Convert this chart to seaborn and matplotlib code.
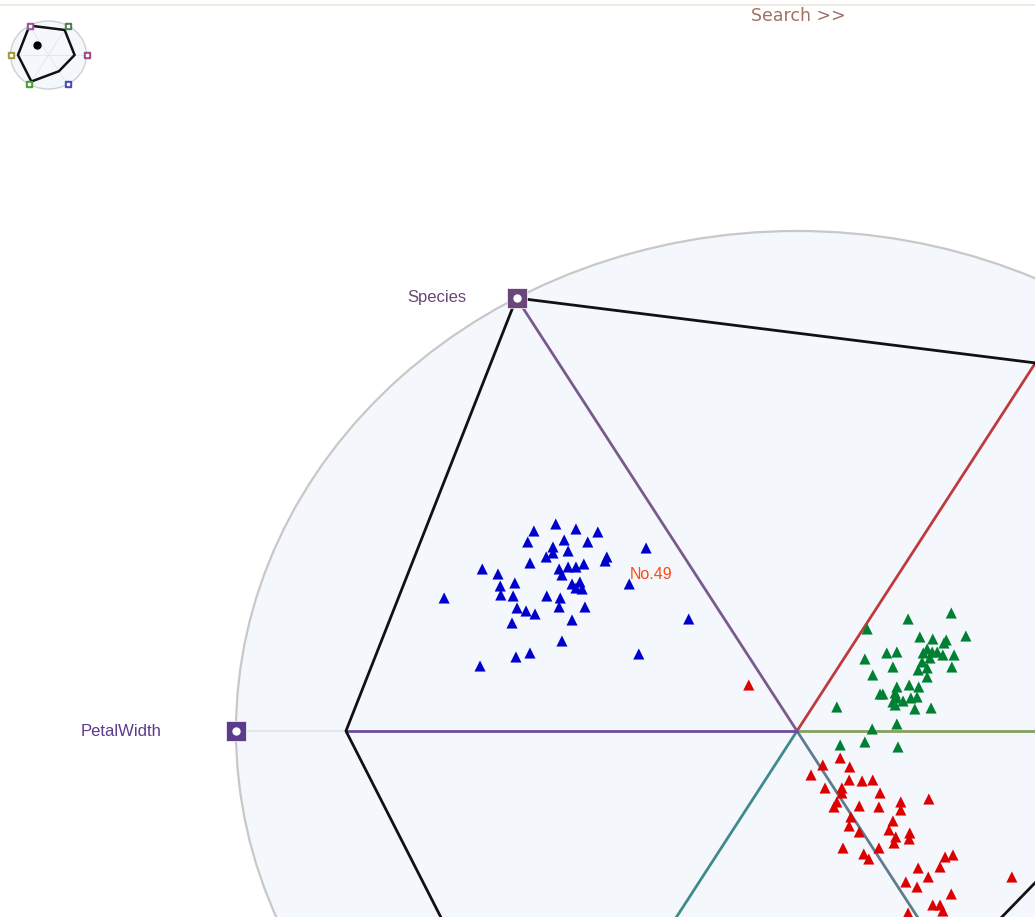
import numpy as np
import pandas as pd
import matplotlib
matplotlib.use("Agg")
import matplotlib.pyplot as plt
import seaborn as sns
from matplotlib.patches import Circle
from matplotlib.lines import Line2D

# ---------------- data (RadViz projections, unit circle) ----------------
setosa_x = [-0.469, -0.430, -0.394, -0.355, -0.480, -0.415, -0.435, -0.373, -0.408, -0.435,
            -0.447, -0.339, -0.342, -0.269, -0.476, -0.561, -0.533, -0.424, -0.408, -0.394,
            -0.380, -0.419, -0.503, -0.529, -0.401, -0.387, -0.383, -0.394, -0.299, -0.528,
            -0.506, -0.446, -0.422, -0.629, -0.378, -0.424, -0.499, -0.483, -0.467, -0.193,
            -0.508, -0.401, -0.419, -0.476, -0.501, -0.282, -0.565]
setosa_y = [0.400, 0.414, 0.404, 0.398, 0.378, 0.382, 0.368, 0.378, 0.360, 0.356,
            0.348, 0.348, 0.340, 0.366, 0.336, 0.324, 0.314, 0.324, 0.328, 0.328,
            0.334, 0.312, 0.296, 0.290, 0.294, 0.298, 0.284, 0.286, 0.294, 0.272,
            0.270, 0.270, 0.266, 0.266, 0.248, 0.248, 0.246, 0.240, 0.234, 0.224,
            0.216, 0.222, 0.180, 0.156, 0.148, 0.154, 0.130]

versicolor_x = [0.275, 0.198, 0.301, 0.219, 0.242, 0.266, 0.125, 0.262, 0.232, 0.225,
                0.241, 0.250, 0.260, 0.280, 0.160, 0.178, 0.121, 0.237, 0.223, 0.171,
                0.232, 0.276, 0.216, 0.135, 0.232, 0.200, 0.178, 0.217, 0.148, 0.153,
                0.175, 0.178, 0.171, 0.214, 0.203, 0.189, 0.175, 0.210, 0.239, 0.071,
                0.134, 0.178, 0.077, 0.121, 0.180]
versicolor_y = [0.236, 0.224, 0.190, 0.188, 0.184, 0.182, 0.204, 0.176, 0.164, 0.156,
                0.158, 0.158, 0.152, 0.152, 0.156, 0.158, 0.144, 0.146, 0.138, 0.128,
                0.126, 0.128, 0.122, 0.112, 0.108, 0.092, 0.088, 0.088, 0.074, 0.074,
                0.076, 0.066, 0.058, 0.068, 0.066, 0.060, 0.052, 0.044, 0.046, 0.048,
                0.004, 0.014, -0.028, -0.022, -0.032]

virginica_x = [-0.086, 0.077, 0.046, 0.094, 0.025, 0.093, 0.116, 0.135, 0.050, 0.080,
               0.080, 0.148, 0.235, 0.185, 0.071, 0.066, 0.111, 0.146, 0.185, 0.096,
               0.171, 0.093, 0.164, 0.111, 0.201, 0.176, 0.200, 0.173, 0.082, 0.146,
               0.119, 0.128, 0.278, 0.264, 0.216, 0.255, 0.234, 0.383, 0.194, 0.214,
               0.275, 0.242, 0.255, 0.260, 0.198]
virginica_y = [0.092, -0.054, -0.068, -0.072, -0.088, -0.098, -0.100, -0.098, -0.114, -0.114,
               -0.124, -0.124, -0.136, -0.142, -0.142, -0.152, -0.150, -0.152, -0.158, -0.172,
               -0.180, -0.190, -0.198, -0.202, -0.204, -0.212, -0.216, -0.224, -0.234, -0.234,
               -0.246, -0.256, -0.248, -0.252, -0.274, -0.272, -0.292, -0.292, -0.302, -0.312,
               -0.326, -0.348, -0.348, -0.360, -0.364]

species_names = ["setosa", "versicolor", "virginica"]
species_colors = ["#0000cc", "#008033", "#dd0000"]

# anchors (dimensions) around the circle
anchor_angles = [120, 60, 0, 300, 240, 180]
anchor_labels = ["Species", "", "", "", "", "PetalWidth"]
anchor_colors = ["#7a5a8c", "#c0393b", "#86a05e", "#5f7c8e", "#3f8a8c", "#6a4c9c"]
anchor_square_colors = ["#6b4679", "#8a3a3a", "#6a8a4a", "#4a5a8a", "#3a7a7a", "#5c3a8c"]
# highlighted record (No.49) polygon: normalised value on each dimension
record_values = [1.0, 0.85, 0.687, 0.55, 0.9, 0.804]
highlight_label = "No.49"
highlight_index = 28

mini_colors = ["#a0509a", "#4f7f4f", "#a04a80", "#4a4ac0", "#4aa030", "#a09a40"]

# ---------------- figure ----------------
sns.set_style("white")
plt.rcParams["font.family"] = ["Liberation Sans", "DejaVu Sans"]

W, H = 1035, 917
fig = plt.figure(figsize=(W / 100, H / 100), dpi=100)
ax = fig.add_axes([0, 0, 1, 1])
ax.set_xlim(-797 / 561, 238 / 561)
ax.set_ylim(-186 / 500, 731 / 500)
ax.axis("off")

ax.add_patch(Circle((0, 0), 1.0, facecolor="#f4f8fd", edgecolor="#c8c8c8", lw=1.6, zorder=0))

ang = np.deg2rad(anchor_angles)
ax_x, ax_y = np.cos(ang), np.sin(ang)
vals = np.array(record_values)

for i in range(len(ang)):
    vx, vy = ax_x[i] * vals[i], ax_y[i] * vals[i]
    ax.plot([vx, ax_x[i]], [vy, ax_y[i]], color="#e4e6ea", lw=1.5, zorder=1)
    ax.plot([0, vx], [0, vy], color=anchor_colors[i], lw=2, zorder=2)

# record polygon
px = np.append(ax_x * vals, ax_x[0] * vals[0])
py = np.append(ax_y * vals, ax_y[0] * vals[0])
ax.plot(px, py, color="#111111", lw=2, zorder=3)

# points
df = pd.DataFrame({
    "x": setosa_x + versicolor_x + virginica_x,
    "y": setosa_y + versicolor_y + virginica_y,
    "species": [species_names[0]] * len(setosa_x) + [species_names[1]] * len(versicolor_x)
               + [species_names[2]] * len(virginica_x),
})
sns.scatterplot(data=df, x="x", y="y", hue="species", palette=dict(zip(species_names, species_colors)),
                marker="^", s=64, linewidth=0, legend=False, ax=ax, zorder=4)

# anchors
label_offsets = {"Species": -36, "PetalWidth": -54}
for i in range(len(ang)):
    ax.plot(ax_x[i], ax_y[i], marker="s", ms=14, color=anchor_square_colors[i], mec="white", mew=0.5, zorder=5)
    ax.plot(ax_x[i], ax_y[i], marker="o", ms=5, color="white", zorder=6)
    if anchor_labels[i]:
        ax.annotate(anchor_labels[i], (ax_x[i], ax_y[i]), xytext=(label_offsets[anchor_labels[i]], 0),
                    textcoords="offset points", ha="right", va="center", fontsize=12,
                    color=anchor_square_colors[i])

ax.annotate(highlight_label, (setosa_x[highlight_index], setosa_y[highlight_index]), xytext=(0, 6.5),
            textcoords="offset points", ha="left", va="center", fontsize=11.5, color="#ff4a10", zorder=7)

# top strip
fig.add_artist(Line2D([0, 1], [1 - 5 / H, 1 - 5 / H], color="#efe6d8", lw=1.2, transform=fig.transFigure))
fig.text(798 / W, 1 - 16 / H, "Search >>", fontsize=12.5, color="#a07262", ha="center", va="center",
         fontfamily="DejaVu Sans")

# mini overview
mx = fig.add_axes([1 / W, 1 - 97.5 / H, 95 / W, 85 / H])
mx.set_xlim(-1.25, 1.25)
mx.set_ylim(-1.25, 1.25)
mx.axis("off")
mx.add_patch(Circle((0, 0), 1.0, facecolor="#f4f8fd", edgecolor="#d0d0d0", lw=1.0, zorder=0))
for i in range(len(ang)):
    mx.plot([0, ax_x[i]], [0, ax_y[i]], color="#e2e4e8", lw=0.6, zorder=1)
mx.plot(px, py, color="#111111", lw=1.8, zorder=2)
for i in range(len(ang)):
    mx.plot(ax_x[i], ax_y[i], marker="s", ms=5, color=mini_colors[i], zorder=3)
    mx.plot(ax_x[i], ax_y[i], marker="s", ms=2, color="white", zorder=4)
mx.plot(-0.3, 0.29, marker="o", ms=5, color="black", zorder=5)

fig.savefig("out.png", dpi=100, facecolor="white")
